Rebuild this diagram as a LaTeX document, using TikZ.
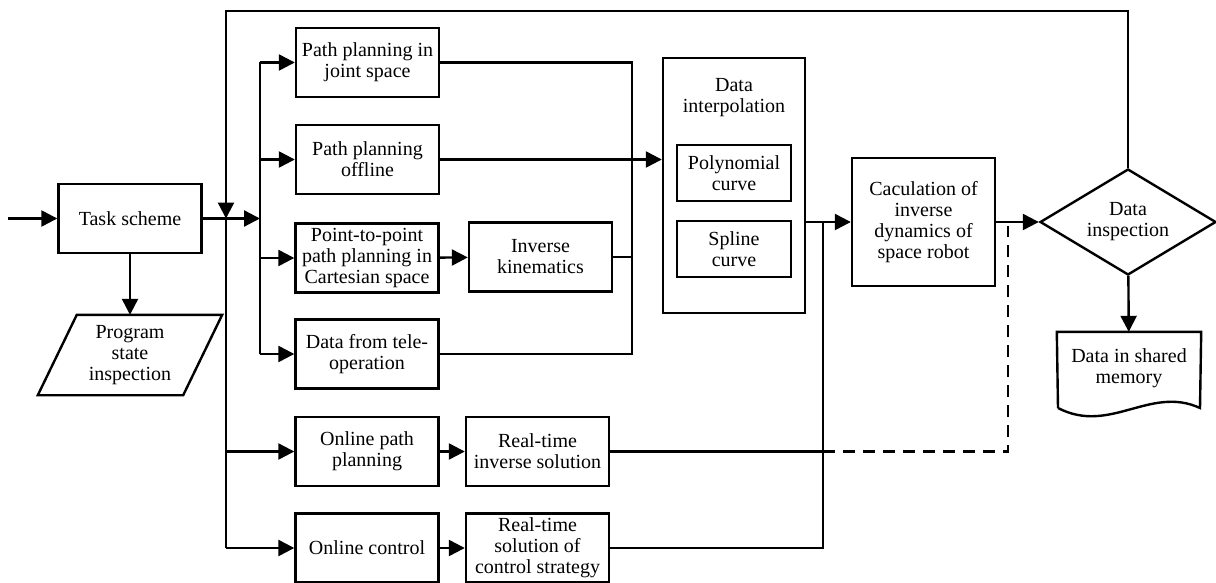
\documentclass[tikz,border=0pt]{standalone}
\usepackage{fontspec}
\setmainfont{Liberation Serif}
\usetikzlibrary{arrows.meta, shapes.geometric}

\tikzset{
	box/.style={draw, line width=1.2pt, align=center, inner sep=0pt, minimum width=71.5pt, minimum height=34.5pt},
	arr/.style={-{Triangle[length=8pt, width=8pt]}},
	plain/.style={align=center, inner sep=0pt},
}

\begin{document}
\begin{tikzpicture}[x=0.5pt, y=-0.5pt, line width=1.2pt, font=\fontsize{10}{10.5}\selectfont]
	\useasboundingbox (0,0) rectangle (1216,583);

	\node [box] (task) at (130,218.5) {Task scheme};
	\node [plain, minimum width=52pt, minimum height=39pt] (prog) at (130,355) {Program\\state\\inspection};
	\draw (prog.north west) -- ([xshift=19.5pt]prog.north east) -- (prog.south east) -- ([xshift=-19.5pt]prog.south west) -- cycle;

	\node [box] (joint) at (367.5,62.5) {Path planning in\\joint space};
	\node [box] (offline) at (367.5,159.5) {Path planning\\offline};
	\node [box] (ptp) at (367,258) {Point-to-point\\path planning in\\Cartesian space};
	\node [box] (tele) at (367,354) {Data from tele-\\operation};
	\node [box] (onpath) at (367,451.5) {Online path\\planning};
	\node [box] (onctrl) at (367,548) {Online control};

	\node [box] (invkin) at (540.5,257) {Inverse\\kinematics};
	\node [box] (rtinv) at (537.5,451.5) {Real-time\\inverse solution};
	\node [box] (rtctrl) at (537.5,548) {Real-time\\solution of\\control strategy};

	\node [box, minimum width=71pt, minimum height=127.5pt] (interp) at (734,185.5) {};
	\node [plain] (interptitle) at (734,98) {Data\\interpolation};
	\node [box, minimum width=57pt, minimum height=28pt] (poly) at (734,173) {Polynomial\\curve};
	\node [box, minimum width=57pt, minimum height=28pt] (spline) at (734,249) {Spline\\curve};

	\node [box, minimum height=64pt] (calc) at (923.5,222) {Caculation of\\inverse\\dynamics of\\space robot};
	\node [draw, diamond, aspect=1.7, inner sep=0pt, minimum width=88pt, minimum height=53pt, align=center] (insp) at (1128,222) {Data\\inspection};

	\node [plain, minimum width=71pt, minimum height=35pt] (mem) at (1129,368) {Data in shared\\memory};
	\draw (1058,408) -- (mem.north west) -- (mem.north east) -- (1200,408) .. controls (1150,385) and (1110,435) .. (1058,408);

	\coordinate (in) at (8,218.5);
	\coordinate (fb) at (226,218.5);
	\coordinate (top) at (226,11);
	\coordinate (bus) at (260,218.5);
	\coordinate (m) at (632,257);
	\coordinate (m2) at (823,222);
	\coordinate (dsh) at (1008,226);

	\draw [arr] (in) -- (task);
	\draw [arr] (task) -- (prog);
	\draw [arr] (task) -- (bus);
	\draw [arr] (insp.north) |- (top) -- (fb);
	\draw (fb) -- (fb |- onctrl);
	\draw [arr] (fb |- onpath) -- (onpath);
	\draw [arr] (fb |- onctrl) -- (onctrl);

	\draw (bus |- joint) -- (bus |- tele);
	\draw [arr] (bus |- joint) -- (joint);
	\draw [arr] (bus |- offline) -- (offline);
	\draw [arr] (bus |- ptp) -- (ptp);
	\draw [arr] (bus |- tele) -- (tele);

	\draw [arr] (ptp) -- (invkin);
	\draw [arr] (onpath) -- (rtinv);
	\draw [arr] (onctrl) -- (rtctrl);

	\draw (joint) -| (m) |- (tele);
	\draw (invkin) -- (m);
	\draw [arr] (offline) -- (offline -| interp.west);

	\draw [arr] (interp.east |- calc) -- (calc);
	\draw (rtctrl) -| (m2);
	\draw (rtinv) -- (m2 |- rtinv);
	\draw [dash pattern=on 6pt off 4pt] (m2 |- rtinv) -| (dsh);
	\draw [arr] (calc) -- (insp);
	\draw [arr] (insp) -- (mem);
\end{tikzpicture}
\end{document}
